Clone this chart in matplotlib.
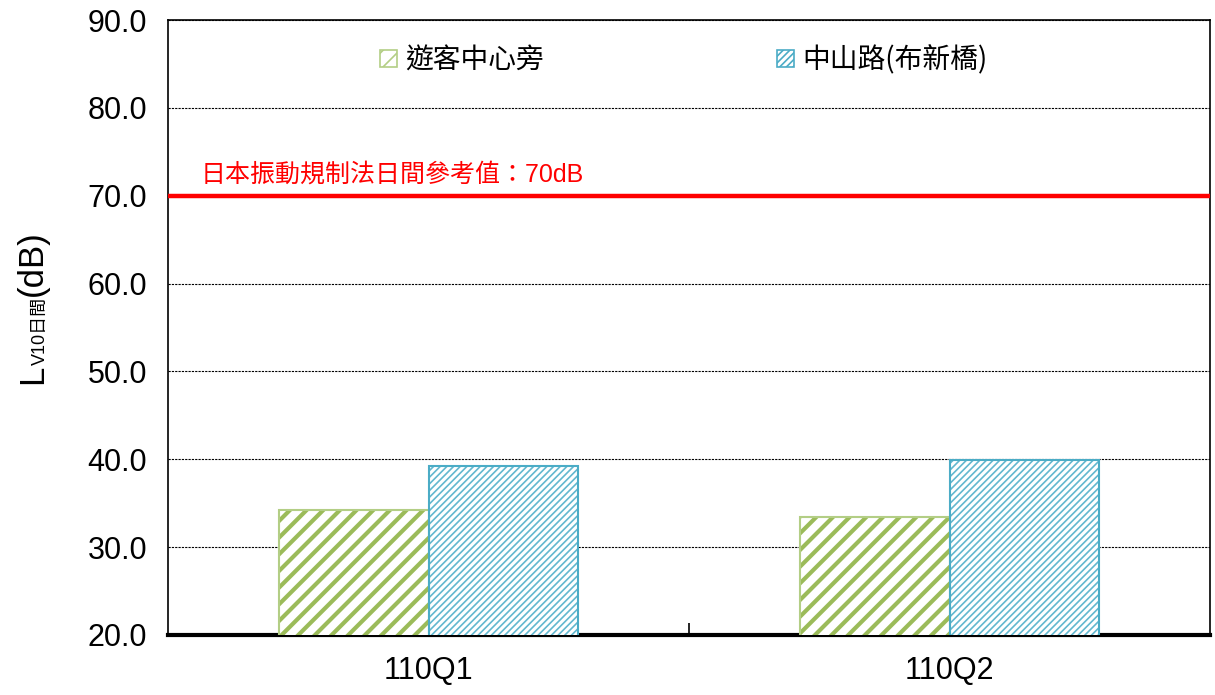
import numpy as np
import matplotlib
matplotlib.use("Agg")
import matplotlib.pyplot as plt

plt.rcParams['font.family'] = ['Liberation Sans', 'Noto Sans CJK TC', 'DejaVu Sans']

quarters = ['110Q1', '110Q2']
sites = ['遊客中心旁', '中山路(布新橋)']
values_center = [34.2, 33.4]
values_bridge = [39.2, 39.9]
limit = 70.0
limit_text = '日本振動規制法日間參考值：70dB'
yticks = [20, 30, 40, 50, 60, 70, 80, 90]

green = '#9BBB59'
green_edge = '#B3CE85'
blue = '#62B7CF'
blue_edge = '#4BACC6'

fig = plt.figure(figsize=(12.15, 6.95), dpi=100)
ax = fig.add_axes([168 / 1215, 1 - 635 / 695, 1042 / 1215, 615 / 695])

x = np.arange(len(quarters))
w = 0.286

plt.rcParams['hatch.linewidth'] = 3.0
b1 = ax.bar(x - w / 2, values_center, w, color='white', edgecolor=green,
            hatch='//', linewidth=0, label=sites[0], zorder=3)
for p in b1:
    try:
        p.set_hatch_linewidth(3.0)
    except AttributeError:
        pass
ax.bar(x - w / 2, values_center, w, fill=False, edgecolor=green_edge, linewidth=1.5, zorder=3.5)

plt.rcParams['hatch.linewidth'] = 1.2
b2 = ax.bar(x + w / 2, values_bridge, w, color='white', edgecolor=blue,
            hatch='/////', linewidth=0, label=sites[1], zorder=3)
for p in b2:
    try:
        p.set_hatch_linewidth(1.2)
    except AttributeError:
        pass
ax.bar(x + w / 2, values_bridge, w, fill=False, edgecolor=blue_edge, linewidth=1.5, zorder=3.5)

ax.axhline(limit, color='#FF0000', linewidth=3.2, zorder=4)
ax.text(0.031, 71.0, limit_text, transform=ax.get_yaxis_transform(), color='#FF0000',
        fontsize=18, va='bottom', ha='left')

ax.set_ylim(20, 90)
ax.set_xlim(-0.5, 1.5)
ax.set_yticks(yticks)
ax.set_yticklabels([f'{v:.1f}' for v in yticks], fontsize=22)
ax.tick_params(axis='y', length=0, pad=15)
ax.yaxis.grid(True, linestyle=(0, (2, 1)), color='black', linewidth=0.8, zorder=0)

ax.set_xticks(x)
ax.set_xticklabels(quarters, fontsize=22)
ax.set_xticks([0.5], minor=True)
ax.tick_params(axis='x', which='major', length=0, pad=15)
ax.tick_params(axis='x', which='minor', direction='in', length=9, width=1.2)

for s in ['left', 'right', 'top']:
    ax.spines[s].set_linewidth(1.2)
ax.spines['bottom'].set_linewidth(3)

leg = ax.legend(loc='upper center', bbox_to_anchor=(0.495, 0.995), ncol=2, frameon=False,
                prop={'family': ['Noto Sans CJK TC'], 'size': 20},
                handlelength=0.6, handleheight=0.6, handletextpad=0.3,
                columnspacing=8.4, borderaxespad=0.4)
for h, ec in zip(leg.legend_handles, [green_edge, blue_edge]):
    h.set_linewidth(1.2)
    h.set_edgecolor(ec)

# y label: L with subscript V10日間, then (dB)
fig.canvas.draw()
r = fig.canvas.get_renderer()
bx = 42 / 1215
y0 = 1 - 384 / 695
parts = [('L', 25, 0), ('V10日間', 13, 3), ('(dB)', 25, 0)]
yy = y0
for s, fs, shift in parts:
    t = fig.text(bx + shift / 1215, yy, s, rotation=90, rotation_mode='anchor',
                 ha='left', va='baseline', fontsize=fs)
    ext = t.get_window_extent(r)
    yy += ext.height / 695

fig.savefig('out.png', dpi=100)
